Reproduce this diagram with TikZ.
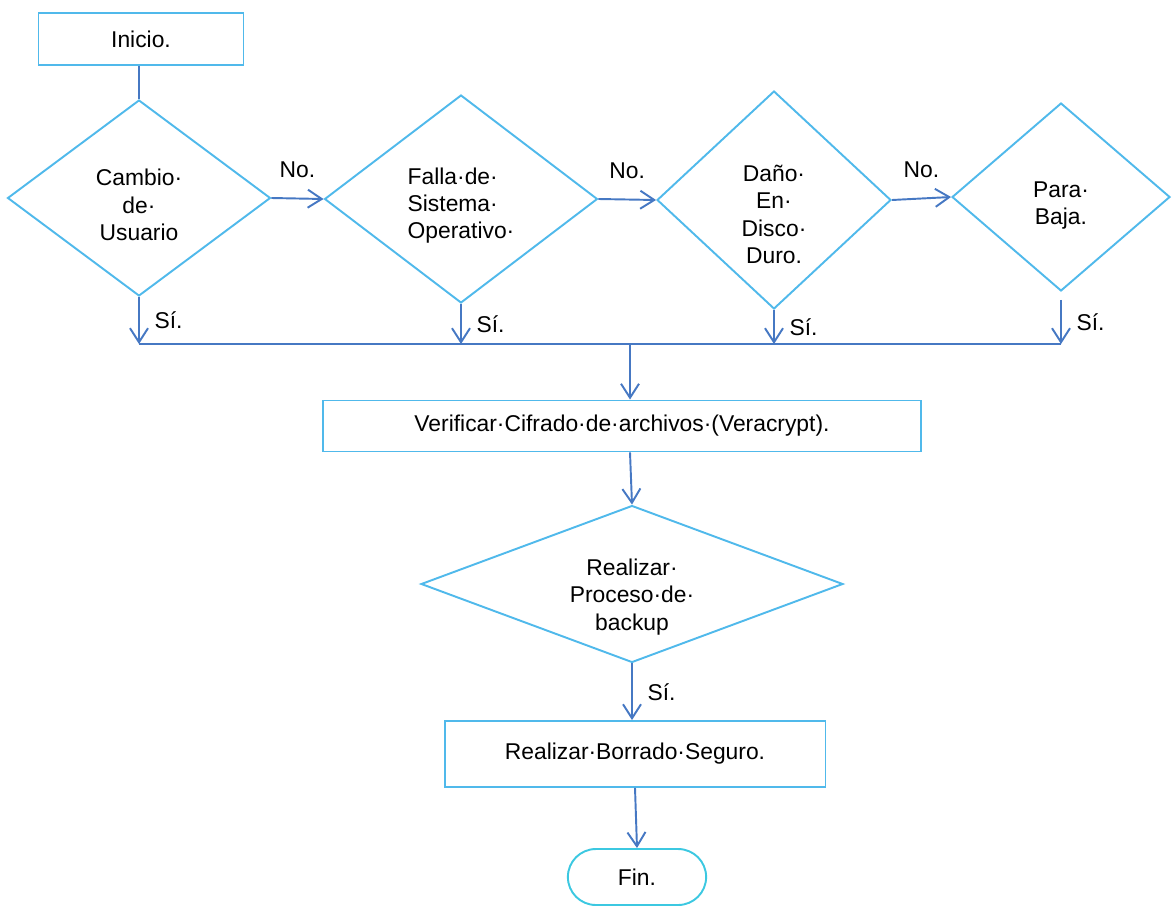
\documentclass[tikz,border=0pt]{standalone}
\usepackage{fontspec}
\setmainfont{Liberation Sans}
\usetikzlibrary{shapes.geometric,shapes.misc,arrows.meta}
\definecolor{cajacol}{RGB}{80,185,235}
\definecolor{flechacol}{RGB}{70,120,195}
\definecolor{fincol}{RGB}{60,200,225}
\newcommand{\bajar}[1]{\rule{0pt}{#1}}
\begin{document}
\begin{tikzpicture}[x=0.02cm, y=-0.02cm,
        every node/.style={font=\fontsize{13}{15.5}\selectfont},
        caja/.style={draw=cajacol, line width=1.1pt, rectangle, inner sep=0pt},
        rombo/.style={draw=cajacol, line width=1.1pt, diamond, inner sep=0pt, align=center},
        flecha/.style={draw=flechacol, line width=1.1pt, -{Straight Barb[length=0.28cm,width=0.36cm]}},
        linea/.style={draw=flechacol, line width=1.1pt}]
        \useasboundingbox (0,0) rectangle (1172,909);
        \node[caja, minimum width=4.1cm, minimum height=1.04cm] (inicio) at (141,39) {Inicio.};
        \node[rombo, minimum width=5.26cm, minimum height=3.92cm] (cambio) at (139,198) {\bajar{0.61cm}Cambio·\\de·\\Usuario};
        \node[rombo, align=left, minimum width=5.46cm, minimum height=4.16cm] (falla) at (461,199) {\bajar{0.6cm}Falla·de·\\Sistema·\\Operativo·};
        \node[rombo, minimum width=4.68cm, minimum height=4.36cm] (dano) at (774,200) {\bajar{0.9cm}Daño·\\En·\\Disco·\\Duro.};
        \node[rombo, minimum width=4.36cm, minimum height=3.76cm] (para) at (1061,197) {\bajar{0.64cm}Para·\\Baja.};
        \coordinate (bus) at (630,344);
        \node[caja, minimum width=11.98cm, minimum height=1.02cm] (verif) at (622,426) {Verificar·Cifrado·de·archivos·(Veracrypt).};
        \node[rombo, shape aspect=2.7, minimum width=8.44cm, minimum height=3.14cm] (backup) at (632,584) {\bajar{0.85cm}Realizar·\\Proceso·de·\\backup};
        \node[caja, minimum width=7.62cm, minimum height=1.32cm] (borrado) at (635,754) {Realizar·Borrado·Seguro.};
        \node[draw=fincol, line width=1.1pt, rounded rectangle, minimum width=3cm, minimum height=1.12cm] (fin) at (637,877) {Fin.};

        \draw[linea] (cambio.north |- inicio.south) -- (cambio.north);
        \draw[flecha] (cambio.east) -- (falla.west) node[midway, above=8pt] {No.};
        \draw[flecha] (falla.east) -- (dano.west) node[midway, above=8pt] {No.};
        \draw[flecha] (dano.east) -- (para.west) node[midway, above=8pt] {No.};
        \draw[flecha] (cambio.south) -- (cambio.south |- bus) node[midway, right=5pt] {Sí.};
        \draw[flecha] (falla.south) -- (falla.south |- bus) node[midway, right=5pt] {Sí.};
        \draw[flecha] (dano.south) -- (dano.south |- bus) node[midway, right=5pt] {Sí.};
        \draw[flecha] ([yshift=-0.16cm]para.south) -- (para.south |- bus) node[midway, right=5pt] {Sí.};
        \draw[linea] (cambio.south |- bus) -- (para.south |- bus);
        \draw[flecha] (bus) -- (bus |- verif.north);
        \draw[flecha] (bus |- verif.south) -- (backup.north);
        \draw[flecha] (backup.south) -- (backup.south |- borrado.north) node[midway, right=5pt] {Sí.};
        \draw[flecha] (borrado.south) -- (fin.north);
    \end{tikzpicture}
\end{document}
